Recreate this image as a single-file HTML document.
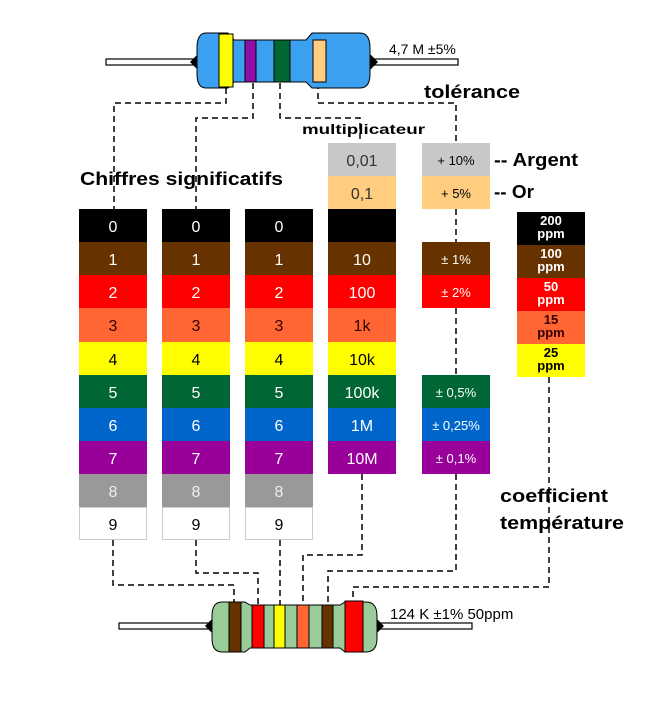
<!DOCTYPE html>
<html><head><meta charset="utf-8"><style>
html,body{margin:0;padding:0;background:#fff;}
svg{display:block;font-family:"Liberation Sans",sans-serif;}
.c{font-size:16px;text-anchor:middle;}
.b{font-weight:bold;fill:#000;}
.d{stroke:#000;stroke-width:1.5;stroke-dasharray:6,4;fill:none;}
.s{font-size:13px;text-anchor:middle;}
.p{font-size:13px;text-anchor:middle;font-weight:bold;}
</style></head><body>
<svg width="663" height="713" viewBox="0 0 663 713">
<path class="d" d="M226 88 V103 H114 V209"/>
<path class="d" d="M253 83 V118 H196 V209"/>
<path class="d" d="M280 83 V118 H360 V143"/>
<path class="d" d="M318 83 V103 H456 V143"/>
<path class="d" d="M456 209 V242 M456 308 V375 M456 474 V571 H328 V605"/>
<path class="d" d="M362 474 V555 H303 V605"/>
<path class="d" d="M549 377 V587 H353 V602"/>
<path class="d" d="M113 540 V585 H234 V602"/>
<path class="d" d="M196 540 V573 H258 V605"/>
<path class="d" d="M280 540 V605"/>

<rect x="106" y="59" width="352" height="6" fill="#fff" stroke="#000" stroke-width="1.2"/>
<path d="M190 62 L198 54 L198 70 Z M378 62 L370 54 L370 70 Z" fill="#000"/>
<path d="M206 33 H228 L234 40 H306 L312 33 H360 Q370 33 370 48 V74 Q370 88 360 88 H312 L306 82 H234 L228 88 H206 Q197 88 197 74 V48 Q197 33 206 33 Z" fill="#3ba0ef" stroke="#000" stroke-width="1"/>
<rect x="219" y="34" width="14" height="53" fill="#ffff00" stroke="#000" stroke-width="1"/>
<rect x="245" y="40" width="11" height="42" fill="#8e0ea8" stroke="#000" stroke-width="1"/>
<rect x="274" y="40" width="16" height="42" fill="#006633" stroke="#000" stroke-width="1"/>
<rect x="313" y="40" width="13" height="42" fill="#ffcc80" stroke="#000" stroke-width="1"/>
<text x="389" y="54" font-size="14">4,7 M ±5%</text>
<text x="424" y="98" class="b" font-size="18" textLength="96" lengthAdjust="spacingAndGlyphs">tolérance</text>
<text x="302" y="134" class="b" font-size="14" textLength="123" lengthAdjust="spacingAndGlyphs">multiplicateur</text>
<text x="80" y="185" class="b" font-size="18" textLength="203" lengthAdjust="spacingAndGlyphs">Chiffres significatifs</text>
<text x="494" y="166" class="b" font-size="18" textLength="84" lengthAdjust="spacingAndGlyphs">-- Argent</text>
<text x="494" y="198" class="b" font-size="18" textLength="40" lengthAdjust="spacingAndGlyphs">-- Or</text>
<text x="500" y="502" class="b" font-size="18" textLength="108" lengthAdjust="spacingAndGlyphs">coefficient</text>
<text x="500" y="529" class="b" font-size="18" textLength="124" lengthAdjust="spacingAndGlyphs">température</text>

<g id="col">
<rect x="79" y="209" width="68" height="33" fill="#000"/>
<rect x="79" y="242" width="68" height="33" fill="#663300"/>
<rect x="79" y="275" width="68" height="33" fill="#ff0000"/>
<rect x="79" y="308" width="68" height="34" fill="#ff6633"/>
<rect x="79" y="342" width="68" height="33" fill="#ffff00"/>
<rect x="79" y="375" width="68" height="33" fill="#006633"/>
<rect x="79" y="408" width="68" height="33" fill="#0066cc"/>
<rect x="79" y="441" width="68" height="33" fill="#990099"/>
<rect x="79" y="474" width="68" height="33" fill="#999999"/>
<rect x="79.5" y="507.5" width="67" height="32" fill="#fff" stroke="#ccc"/>
<text class="c" x="113" y="232" fill="#fff">0</text>
<text class="c" x="113" y="265" fill="#fff">1</text>
<text class="c" x="113" y="298" fill="#fff">2</text>
<text class="c" x="113" y="331" fill="#330000">3</text>
<text class="c" x="113" y="365" fill="#000">4</text>
<text class="c" x="113" y="398" fill="#fff">5</text>
<text class="c" x="113" y="431" fill="#fff">6</text>
<text class="c" x="113" y="464" fill="#fff">7</text>
<text class="c" x="113" y="497" fill="#eee">8</text>
<text class="c" x="113" y="530" fill="#000">9</text>
</g>
<use href="#col" x="83"/>
<use href="#col" x="166"/>

<rect x="328" y="143" width="68" height="33" fill="#c8c8c8"/>
<rect x="328" y="176" width="68" height="33" fill="#ffcc80"/>
<rect x="328" y="209" width="68" height="33" fill="#000"/>
<rect x="328" y="242" width="68" height="33" fill="#663300"/>
<rect x="328" y="275" width="68" height="33" fill="#ff0000"/>
<rect x="328" y="308" width="68" height="34" fill="#ff6633"/>
<rect x="328" y="342" width="68" height="33" fill="#ffff00"/>
<rect x="328" y="375" width="68" height="33" fill="#006633"/>
<rect x="328" y="408" width="68" height="33" fill="#0066cc"/>
<rect x="328" y="441" width="68" height="33" fill="#990099"/>
<text class="c" x="362" y="166" fill="#333">0,01</text>
<text class="c" x="362" y="199" fill="#333">0,1</text>
<text class="c" x="362" y="265" fill="#fff">10</text>
<text class="c" x="362" y="298" fill="#fff">100</text>
<text class="c" x="362" y="331" fill="#330000">1k</text>
<text class="c" x="362" y="365" fill="#000">10k</text>
<text class="c" x="362" y="398" fill="#fff">100k</text>
<text class="c" x="362" y="431" fill="#fff">1M</text>
<text class="c" x="362" y="464" fill="#fff">10M</text>

<rect x="422" y="143" width="68" height="33" fill="#c8c8c8"/>
<rect x="422" y="176" width="68" height="33" fill="#ffcc80"/>
<rect x="422" y="242" width="68" height="33" fill="#663300"/>
<rect x="422" y="275" width="68" height="33" fill="#ff0000"/>
<rect x="422" y="375" width="68" height="33" fill="#006633"/>
<rect x="422" y="408" width="68" height="33" fill="#0066cc"/>
<rect x="422" y="441" width="68" height="33" fill="#990099"/>
<text class="s" x="456" y="165" fill="#000">+ 10%</text>
<text class="s" x="456" y="198" fill="#000">+ 5%</text>
<text class="s" x="456" y="264" fill="#fff">± 1%</text>
<text class="s" x="456" y="297" fill="#fff">± 2%</text>
<text class="s" x="456" y="397" fill="#fff">± 0,5%</text>
<text class="s" x="456" y="430" fill="#fff">± 0,25%</text>
<text class="s" x="456" y="463" fill="#fff">± 0,1%</text>

<rect x="517" y="212" width="68" height="33" fill="#000"/>
<rect x="517" y="245" width="68" height="33" fill="#663300"/>
<rect x="517" y="278" width="68" height="33" fill="#ff0000"/>
<rect x="517" y="311" width="68" height="33" fill="#ff6633"/>
<rect x="517" y="344" width="68" height="33" fill="#ffff00"/>
<g class="p">
<text x="551" y="225" fill="#fff">200</text><text x="551" y="238" fill="#fff">ppm</text>
<text x="551" y="258" fill="#fff">100</text><text x="551" y="271" fill="#fff">ppm</text>
<text x="551" y="291" fill="#fff">50</text><text x="551" y="304" fill="#fff">ppm</text>
<text x="551" y="324" fill="#330000">15</text><text x="551" y="337" fill="#330000">ppm</text>
<text x="551" y="357" fill="#000">25</text><text x="551" y="370" fill="#000">ppm</text>
</g>

<rect x="119" y="623" width="353" height="6" fill="#fff" stroke="#000" stroke-width="1.2"/>
<path d="M205 626 L213 618 L213 634 Z M384 626 L376 618 L376 634 Z" fill="#000"/>
<path d="M222 602 H245 L250 605 H340 L345 602 H366 Q377 602 377 616 V638 Q377 652 366 652 H345 L340 648 H250 L245 652 H222 Q212 652 212 638 V616 Q212 602 222 602 Z" fill="#99cc99" stroke="#000" stroke-width="1"/>
<rect x="229" y="602" width="12" height="50" fill="#663300" stroke="#000" stroke-width="1"/>
<rect x="252" y="605" width="12" height="43" fill="#ff0000" stroke="#000" stroke-width="1"/>
<rect x="274" y="605" width="11" height="43" fill="#ffff00" stroke="#000" stroke-width="1"/>
<rect x="297" y="605" width="12" height="43" fill="#ff6633" stroke="#000" stroke-width="1"/>
<rect x="322" y="605" width="11" height="43" fill="#663300" stroke="#000" stroke-width="1"/>
<rect x="345" y="601" width="18" height="51" fill="#ff0000" stroke="#000" stroke-width="1"/>
<text x="390" y="619" font-size="15">124 K  ±1% 50ppm</text>
</svg>
</body></html>
